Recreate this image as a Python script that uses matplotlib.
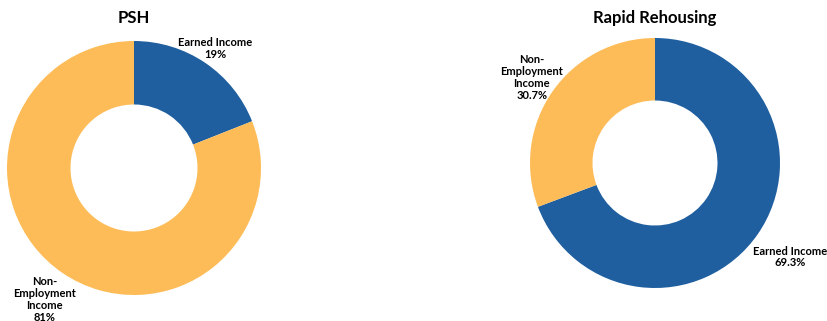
import numpy as np
import matplotlib
matplotlib.use("Agg")
import matplotlib.pyplot as plt

plt.rcParams['font.family'] = ['Lato', 'DejaVu Sans']

# data
categories_psh = ["Earned Income", "Non-\nEmployment\nIncome"]
values_psh = [19, 81]
pct_psh = ["19%", "81%"]

categories_rrh = ["Earned Income", "Non-\nEmployment\nIncome"]
values_rrh = [69.3, 30.7]
pct_rrh = ["69.3%", "30.7%"]

titles = ["PSH", "Rapid Rehousing"]

BLUE = "#1F5FA0"
ORANGE = "#FDBC58"

W, H = 827, 321
fig = plt.figure(figsize=(W / 100, H / 100), dpi=100)


def donut(cx, cy, r, vals, cats, pcts, title, dists):
    # axes in pixel coords, radius 1 in data = r pixels
    L = 1.6
    size = 2 * L * r
    ax = fig.add_axes([(cx - L * r) / W, (H - cy - L * r) / H, size / W, size / H])
    wedges, _ = ax.pie(vals, colors=[BLUE, ORANGE], startangle=90, counterclock=False,
                       radius=1.0, wedgeprops=dict(width=0.5, edgecolor='none'))
    # pie resets the limits, so set them afterwards
    ax.set_xlim(-L, L)
    ax.set_ylim(-L, L)
    ax.set_aspect('equal')
    ax.axis('off')
    for w, c, p, d in zip(wedges, cats, pcts, dists):
        ang = np.deg2rad((w.theta1 + w.theta2) / 2)
        ax.text(d * np.cos(ang), d * np.sin(ang), c + "\n" + p, ha='center', va='center',
                fontsize=8, fontweight='bold', linespacing=1.1, clip_on=False)
    fig.text(cx / W, 1 - 18 / H, title, ha='center', va='center', fontsize=12, fontweight='bold')


donut(134, 168, 127, values_psh, categories_psh, pct_psh, titles[0], [1.14, 1.25])
donut(655, 163, 125, values_rrh, categories_rrh, pct_rrh, titles[1], [1.32, 1.2])

fig.savefig("out.png", dpi=100, facecolor='white')
